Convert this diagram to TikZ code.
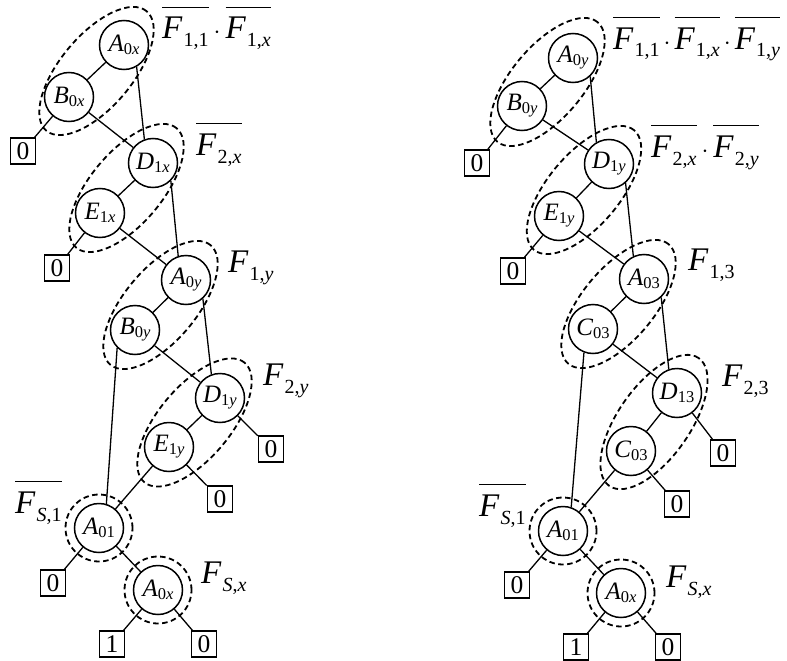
\documentclass[tikz,border=0pt]{standalone}
\usepackage{fontspec}
\setmainfont{Liberation Serif}
\newcommand{\nd}[2]{\textit{#1}\raisebox{-3pt}{\fontsize{16.5}{16.5}\selectfont #2}}
\newcommand{\Fl}[1]{\textit{F}\hspace{1pt}\raisebox{-8pt}{\fontsize{20}{20}\selectfont #1}}
\newcommand{\ovl}[1]{\vbox{\hrule height 1pt\kern 9pt\hbox{#1}}}
\newcommand{\cdt}{\hspace{5pt}$\cdot$\hspace{5pt}}
\begin{document}
\begin{tikzpicture}[x=1pt,y=-1pt,
  vn/.style={circle, draw, line width=1.5pt, minimum size=49pt, inner sep=0pt, font=\fontsize{25}{25}\selectfont},
  lf/.style={draw, line width=1.5pt, minimum width=25pt, minimum height=26pt, inner sep=0pt, font=\fontsize{25.5}{25.5}\selectfont},
  ed/.style={line width=1.3pt},
  grp/.style={line width=1.8pt, dash pattern=on 5.5pt off 3.5pt},
  lab/.style={anchor=base west, inner sep=0pt, font=\fontsize{33}{33}\selectfont}]
\useasboundingbox (0,0) rectangle (787,661);

% ---------------- left tree ----------------
\node[vn] (LA0x) at (124,45) {\nd{A}{0\textit{x}}};
\node[vn] (LB0x) at (69,97) {\nd{B}{0\textit{x}}};
\node[lf] (Ll1) at (23,151) {0};
\node[vn] (LD1x) at (153,163) {\nd{D}{1\textit{x}}};
\node[vn] (LE1x) at (100,213) {\nd{E}{1\textit{x}}};
\node[lf] (Ll2) at (57,268) {0};
\node[vn] (LA0y) at (186,280) {\nd{A}{0\textit{y}}};
\node[vn] (LB0y) at (135,330) {\nd{B}{0\textit{y}}};
\node[vn] (LD1y) at (220,398) {\nd{D}{1\textit{y}}};
\node[lf] (Ll3) at (271,449) {0};
\node[vn] (LE1y) at (169,447) {\nd{E}{1\textit{y}}};
\node[lf] (Ll4) at (220,499) {0};
\node[vn] (LA01) at (99,528) {\nd{A}{01}};
\node[lf] (Ll5) at (53,583) {0};
\node[vn] (LA0xb) at (158,590) {\nd{A}{0\textit{x}}};
\node[lf] (Ll6) at (112,644) {1};
\node[lf] (Ll7) at (204,644) {0};

\draw[ed] (LA0x) -- (LB0x);
\draw[ed] (LA0x.-60) -- (LD1x.110);
\draw[ed] (LB0x) -- (Ll1);
\draw[ed] (LB0x) -- (LD1x);
\draw[ed] (LD1x) -- (LE1x);
\draw[ed] (LD1x.-45) -- (LA0y.108);
\draw[ed] (LE1x) -- (Ll2);
\draw[ed] (LE1x) -- (LA0y);
\draw[ed] (LA0y) -- (LB0y);
\draw[ed] (LA0y.-48) -- (LD1y.110);
\draw[ed] (LB0y.-135) -- (LA01.73);
\draw[ed] (LB0y) -- (LD1y);
\draw[ed] (LD1y) -- (LE1y);
\draw[ed] (LD1y) -- (Ll3);
\draw[ed] (LE1y) -- (LA01);
\draw[ed] (LE1y) -- (Ll4);
\draw[ed] (LA01) -- (Ll5);
\draw[ed] (LA01) -- (LA0xb);
\draw[ed] (LA0xb) -- (Ll6);
\draw[ed] (LA0xb) -- (Ll7);

\coordinate (Lm1) at (96.5,71);
\coordinate (Lm2) at (126.5,188);
\coordinate (Lm3) at (160.5,305);
\coordinate (Lm4) at (194.5,422.5);
\foreach \m in {Lm1,Lm2,Lm3,Lm4}
  \draw[grp, rotate around={50:(\m)}] (\m) ellipse [x radius=78pt, y radius=36pt];
\draw[grp] (LA01) circle [radius=33.5pt];
\draw[grp] (LA0xb) circle [radius=33.5pt];

\node[lab] (Lt1) at (162,39) {\ovl{\Fl{1,1}}\cdt\ovl{\Fl{1,\textit{x}}}};
\node[lab] (Lt2) at (196,155) {\ovl{\Fl{2,\textit{x}}}};
\node[lab] (Lt3) at (228,272) {\Fl{1,\textit{y}}};
\node[lab] (Lt4) at (263,385) {\Fl{2,\textit{y}}};
\node[lab] (Lt5) at (15,513) {\ovl{\Fl{\textit{S},1}}};
\node[lab] (Lt6) at (201,583) {\Fl{\textit{S},\textit{x}}};

% ---------------- right tree ----------------
\node[vn] (RA0y) at (573,58) {\nd{A}{0\textit{y}}};
\node[vn] (RB0y) at (522,106) {\nd{B}{0\textit{y}}};
\node[lf] (Rl1) at (477,163) {0};
\node[vn] (RD1y) at (609,164) {\nd{D}{1\textit{y}}};
\node[vn] (RE1y) at (559,216) {\nd{E}{1\textit{y}}};
\node[lf] (Rl2) at (513,271) {0};
\node[vn] (RA03) at (644,279) {\nd{A}{03}};
\node[vn] (RC03) at (593,329) {\nd{C}{03}};
\node[vn] (RD13) at (677,393) {\nd{D}{13}};
\node[lf] (Rl3) at (723,453) {0};
\node[vn] (RC03b) at (631,451) {\nd{C}{03}};
\node[lf] (Rl4) at (677,504) {0};
\node[vn] (RA01) at (563,531) {\nd{A}{01}};
\node[lf] (Rl5) at (517,585) {0};
\node[vn] (RA0x) at (621,593) {\nd{A}{0\textit{x}}};
\node[lf] (Rl6) at (576,647) {1};
\node[lf] (Rl7) at (668,647) {0};

\draw[ed] (RA0y) -- (RB0y);
\draw[ed] (RA0y.-47) -- (RD1y.120);
\draw[ed] (RB0y) -- (Rl1);
\draw[ed] (RB0y) -- (RD1y);
\draw[ed] (RD1y) -- (RE1y);
\draw[ed] (RD1y.-49) -- (RA03.115);
\draw[ed] (RE1y) -- (Rl2);
\draw[ed] (RE1y) -- (RA03);
\draw[ed] (RA03) -- (RC03);
\draw[ed] (RA03.-47) -- (RD13.109);
\draw[ed] (RC03.-111) -- (RA01.71);
\draw[ed] (RC03) -- (RD13);
\draw[ed] (RD13) -- (RC03b);
\draw[ed] (RD13) -- (Rl3);
\draw[ed] (RC03b) -- (RA01);
\draw[ed] (RC03b) -- (Rl4);
\draw[ed] (RA01) -- (Rl5);
\draw[ed] (RA01) -- (RA0x);
\draw[ed] (RA0x) -- (Rl6);
\draw[ed] (RA0x) -- (Rl7);

\coordinate (Rm1) at (547.5,82);
\coordinate (Rm2) at (584,190);
\coordinate (Rm3) at (618.5,304);
\coordinate (Rm4) at (654,422);
\foreach \m in {Rm1,Rm2,Rm3}
  \draw[grp, rotate around={50:(\m)}] (\m) ellipse [x radius=78pt, y radius=36pt];
\draw[grp, rotate around={55:(Rm4)}] (Rm4) ellipse [x radius=78pt, y radius=36pt];
\draw[grp] (RA01) circle [radius=33.5pt];
\draw[grp] (RA0x) circle [radius=33.5pt];

\node[lab] (Rt1) at (613,49) {\ovl{\Fl{1,1}}\hspace{-1pt}\cdt\hspace{-1pt}\ovl{\Fl{1,\textit{x}}}\hspace{-1pt}\cdt\hspace{-1pt}\ovl{\Fl{1,\textit{y}}}};
\node[lab] (Rt2) at (651,157) {\ovl{\Fl{2,\textit{x}}}\cdt\ovl{\Fl{2,\textit{y}}}};
\node[lab] (Rt3) at (688,270) {\Fl{1,3}};
\node[lab] (Rt4) at (722,386) {\Fl{2,3}};
\node[lab] (Rt5) at (479,516) {\ovl{\Fl{\textit{S},1}}};
\node[lab] (Rt6) at (666,587) {\Fl{\textit{S},\textit{x}}};
\end{tikzpicture}
\end{document}
